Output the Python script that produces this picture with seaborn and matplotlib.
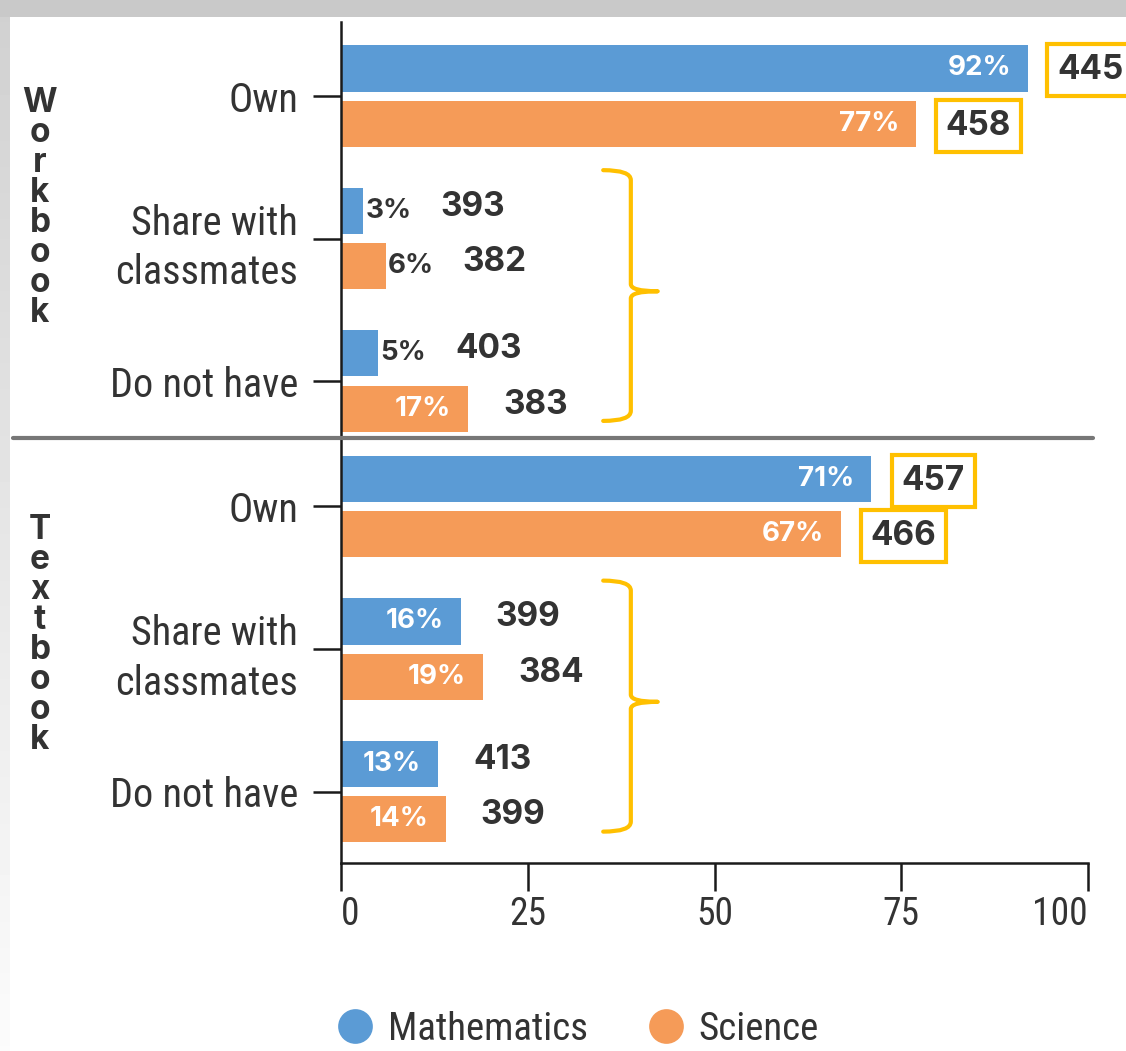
import numpy as np
import pandas as pd
import matplotlib
matplotlib.use("Agg")
import matplotlib.pyplot as plt
from matplotlib import font_manager
from matplotlib.path import Path
from matplotlib.patches import PathPatch, Rectangle
from matplotlib.lines import Line2D
import seaborn as sns

# ---- data -------------------------------------------------------------
statuses = ["Own", "Share with\nclassmates", "Do not have"]
subjects = ["Mathematics", "Science"]
materials = ["Workbook", "Textbook"]

workbook_math_pct = [92, 3, 5]
workbook_sci_pct = [77, 6, 17]
textbook_math_pct = [71, 16, 13]
textbook_sci_pct = [67, 19, 14]

workbook_math_score = [445, 393, 403]
workbook_sci_score = [458, 382, 383]
textbook_math_score = [457, 399, 413]
textbook_sci_score = [466, 384, 399]

x_ticks = [0, 25, 50, 75, 100]

# ---- style ------------------------------------------------------------
BLUE = "#5B9BD5"
ORANGE = "#F59B58"
GOLD = "#FFC000"
DARK = "#333333"

sns.set_theme(style="ticks")
available = {f.name for f in font_manager.fontManager.ttflist}


def pick(*names):
    return [n for n in names if n in available] + ["DejaVu Sans"]


NARROW = pick("Roboto Condensed", "Liberation Sans Narrow", "Roboto")
BOLD = pick("Inter", "Open Sans", "Lato")
plt.rcParams["font.family"] = NARROW

W, H = 1126, 1051
fig = plt.figure(figsize=(W / 100, H / 100), dpi=100)
fig.patch.set_facecolor("white")

# page edge shading
fig.add_artist(Rectangle((0, 1 - 17 / H), 1, 17 / H, transform=fig.transFigure,
                         facecolor="#c9c9c9", edgecolor="none", zorder=0))
edge_ax = fig.add_axes([0, 0, 10 / W, 1 - 17 / H])
edge_ax.imshow(np.linspace(0.82, 0.985, 200).reshape(-1, 1), cmap="gray",
               vmin=0, vmax=1, aspect="auto")
edge_ax.axis("off")


def px_axes(x0, y0, x1, y1):
    return fig.add_axes([x0 / W, 1 - y1 / H, (x1 - x0) / W, (y1 - y0) / H])


def frame(math_pct, sci_pct, math_score, sci_score):
    return pd.DataFrame({
        "status": statuses * 2,
        "subject": [subjects[0]] * 3 + [subjects[1]] * 3,
        "pct": math_pct + sci_pct,
        "score": math_score + sci_score,
    })


panels = [
    (frame(workbook_math_pct, workbook_sci_pct, workbook_math_score, workbook_sci_score),
     px_axes(341, 22, 1088, 438), (2.40, -0.52), 208),
    (frame(textbook_math_pct, textbook_sci_pct, textbook_math_score, textbook_sci_score),
     px_axes(341, 438, 1088, 863), (2.5, -0.48), 635),
]

for i, (df, ax, ylim, title_y) in enumerate(panels):
    sns.barplot(data=df, y="status", x="pct", hue="subject", order=statuses,
                hue_order=subjects, palette=[BLUE, ORANGE], orient="h",
                width=0.775, gap=0.164, errorbar=None, legend=False,
                saturation=1, linewidth=0, ax=ax)
    ax.set_xlim(0, 100)
    ax.set_ylim(*ylim)
    ax.set_xlabel("")
    ax.set_ylabel("")
    ax.set_facecolor("none")
    for side in ("top", "right"):
        ax.spines[side].set_visible(False)
    ax.spines["left"].set_linewidth(1.8)
    ax.spines["left"].set_color("#1a1a1a")
    ax.tick_params(axis="y", length=20, width=1.8, color="#1a1a1a", pad=11,
                   labelsize=29, labelcolor=DARK)
    for lab in ax.get_yticklabels():
        lab.set_linespacing(1.35)

    # value labels on each bar
    for cont, subj in zip(ax.containers, subjects):
        for bar, status in zip(cont, statuses):
            row = df[(df.subject == subj) & (df.status == status)].iloc[0]
            val = bar.get_width()
            yc = bar.get_y() + bar.get_height() / 2
            if val >= 10:
                ax.annotate(f"{row.pct}%", (val, yc), xytext=(-17, 0),
                            textcoords="offset pixels", ha="right", va="center",
                            fontsize=20, fontweight="bold", color="white",
                            family=BOLD)
            else:
                ax.annotate(f"{row.pct}%", (val, yc), xytext=(2, 0),
                            textcoords="offset pixels", ha="left", va="center",
                            fontsize=20, fontweight="bold", color=DARK,
                            family=BOLD)
            if status == "Own":
                ax.annotate(f"{row.score}", (val, yc), xytext=(62, -2),
                            textcoords="offset pixels", ha="center", va="center",
                            fontsize=24, fontweight="bold", color=DARK,
                            family=BOLD, annotation_clip=False,
                            bbox=dict(boxstyle="square,pad=0.3", fc="white",
                                      ec=GOLD, lw=3))
            else:
                off = 35 if val >= 10 else 77
                ax.annotate(f"{row.score}", (val, yc), xytext=(off, 4),
                            textcoords="offset pixels", ha="left", va="center",
                            fontsize=24, fontweight="bold", color=DARK,
                            family=BOLD)

    # brace grouping the non-owning rows
    x0, x1, x2 = 35.1, 38.8, 42.4
    yt, ym, yb = 0.52, 1.37, 2.28
    r = 0.07
    verts = [(x0, yt), (x1, yt), (x1, yt + r), (x1, ym - 0.05), (x1, ym), (x2, ym),
             (x1, ym), (x1, ym + 0.05), (x1, yb - r), (x1, yb), (x0, yb)]
    codes = [Path.MOVETO, Path.CURVE3, Path.CURVE3, Path.LINETO, Path.CURVE3,
             Path.CURVE3, Path.CURVE3, Path.CURVE3, Path.LINETO, Path.CURVE3,
             Path.CURVE3]
    ax.add_patch(PathPatch(Path(verts, codes), fill=False, ec=GOLD, lw=3,
                           capstyle="round", joinstyle="round", clip_on=False))

    # stacked vertical group title
    fig.text(40 / W, 1 - title_y / H, "\n".join(materials[i]), ha="center",
             va="center", fontsize=24, fontweight="bold", color=DARK,
             family=BOLD, linespacing=0.92)

top_ax, bot_ax = panels[0][1], panels[1][1]
top_ax.spines["bottom"].set_visible(False)
top_ax.tick_params(axis="x", bottom=False, labelbottom=False)

bot_ax.spines["bottom"].set_linewidth(1.8)
bot_ax.spines["bottom"].set_color("#1a1a1a")
bot_ax.set_xticks(x_ticks)
bot_ax.set_xticklabels([str(t) for t in x_ticks])
bot_ax.tick_params(axis="x", length=20, width=1.8, color="#1a1a1a", pad=4,
                   labelsize=27, labelcolor=DARK)
xl = bot_ax.get_xticklabels()
xl[0].set_ha("left")
xl[-1].set_ha("right")

# separator between the two groups
fig.add_artist(Line2D([13 / W, 1093 / W], [1 - 438 / H] * 2, color="#777777",
                      lw=3, transform=fig.transFigure))

# legend
handles = [Line2D([], [], ls="", marker="o", markersize=25, markerfacecolor=c,
                  markeredgewidth=0) for c in (BLUE, ORANGE)]
fig.legend(handles, subjects, loc="center", bbox_to_anchor=(578 / W, 1 - 1029 / H),
           ncol=2, frameon=False, fontsize=28, handlelength=0.9,
           handletextpad=0.4, columnspacing=1.55, labelcolor=DARK,
           borderpad=0, borderaxespad=0)

fig.savefig("out.png", dpi=100, facecolor="white")
